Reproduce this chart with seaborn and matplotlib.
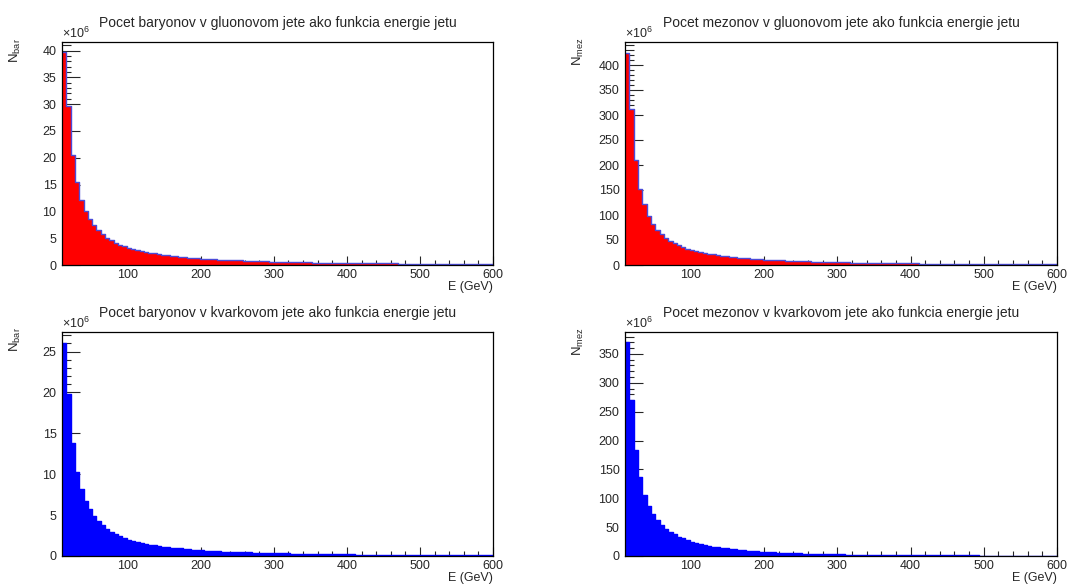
import numpy as np
import pandas as pd
import matplotlib
matplotlib.use("Agg")
import matplotlib.pyplot as plt
from matplotlib.ticker import MultipleLocator
import seaborn as sns

sns.set_style("ticks")
plt.rcParams["font.family"] = ["Liberation Sans", "DejaVu Sans"]
plt.rcParams["mathtext.default"] = "regular"

# binning: 100 bins from 10 to 600 GeV
n_bins = 100
e_min, e_max = 10, 600
edges = np.linspace(e_min, e_max, n_bins + 1)
centers = 0.5 * (edges[:-1] + edges[1:])

# values in units of 1e6
gluon_bar = [
    39.7, 29.6, 20.5, 15.4, 12.2, 10.0, 8.5, 7.4, 6.5, 5.7,
    5.1, 4.6, 4.15, 3.8, 3.5, 3.25, 3.0, 2.8, 2.6, 2.45,
    2.3, 2.17, 2.05, 1.95, 1.83, 1.73, 1.63, 1.55, 1.47, 1.39,
    1.32, 1.25, 1.19, 1.14, 1.09, 1.04, 1.0, 0.96, 0.93, 0.9,
    0.87, 0.84, 0.81, 0.78, 0.75, 0.72, 0.69, 0.66, 0.63, 0.61,
    0.59, 0.57, 0.55, 0.53, 0.51, 0.50, 0.48, 0.47, 0.46, 0.45,
    0.43, 0.42, 0.41, 0.40, 0.39, 0.38, 0.37, 0.36, 0.35, 0.34,
    0.33, 0.32, 0.31, 0.31, 0.30, 0.29, 0.28, 0.28, 0.27, 0.26,
    0.26, 0.25, 0.24, 0.24, 0.23, 0.23, 0.22, 0.22, 0.21, 0.21,
    0.20, 0.20, 0.19, 0.19, 0.18, 0.18, 0.18, 0.17, 0.17, 0.16,
]
gluon_mez = [
    425, 312, 210, 153, 122, 99, 83, 71, 62, 55,
    49, 44, 39.5, 36, 33, 30.5, 28, 26, 24.2, 22.6,
    21.2, 20.0, 18.8, 17.8, 16.8, 15.9, 15.0, 14.2, 13.5, 12.8,
    12.2, 11.6, 11.0, 10.5, 10.0, 9.6, 9.2, 8.8, 8.4, 8.1,
    7.8, 7.5, 7.2, 6.9, 6.6, 6.4, 6.1, 5.9, 5.7, 5.5,
    5.3, 5.1, 4.9, 4.8, 4.6, 4.5, 4.3, 4.2, 4.1, 3.9,
    3.8, 3.7, 3.6, 3.5, 3.4, 3.3, 3.2, 3.1, 3.0, 2.9,
    2.85, 2.8, 2.7, 2.65, 2.6, 2.5, 2.45, 2.4, 2.35, 2.3,
    2.2, 2.15, 2.1, 2.05, 2.0, 1.95, 1.9, 1.85, 1.8, 1.75,
    1.7, 1.68, 1.65, 1.6, 1.57, 1.54, 1.5, 1.47, 1.44, 1.4,
]
quark_bar = [
    26.0, 19.8, 13.8, 10.3, 8.2, 6.75, 5.75, 4.95, 4.3, 3.75,
    3.3, 2.95, 2.65, 2.4, 2.2, 2.0, 1.85, 1.72, 1.6, 1.5,
    1.4, 1.31, 1.23, 1.16, 1.09, 1.03, 0.97, 0.92, 0.87, 0.82,
    0.78, 0.74, 0.70, 0.67, 0.64, 0.61, 0.58, 0.55, 0.53, 0.51,
    0.49, 0.47, 0.45, 0.43, 0.41, 0.40, 0.38, 0.37, 0.36, 0.34,
    0.33, 0.32, 0.31, 0.30, 0.29, 0.28, 0.27, 0.26, 0.25, 0.24,
    0.235, 0.23, 0.22, 0.21, 0.205, 0.2, 0.19, 0.185, 0.18, 0.175,
    0.17, 0.165, 0.16, 0.155, 0.15, 0.145, 0.14, 0.135, 0.13, 0.125,
    0.12, 0.118, 0.115, 0.11, 0.107, 0.104, 0.1, 0.097, 0.094, 0.09,
    0.088, 0.086, 0.084, 0.082, 0.08, 0.078, 0.076, 0.074, 0.072, 0.07,
]
quark_mez = [
    370, 271, 183, 136, 106, 87, 72.5, 61.5, 54, 47,
    41.5, 37.5, 33.5, 30.5, 27.5, 25, 23, 21, 19.3, 17.8,
    16.4, 15.2, 14.1, 13.1, 12.2, 11.3, 10.5, 9.8, 9.2, 8.6,
    8.0, 7.5, 7.0, 6.6, 6.2, 5.8, 5.5, 5.2, 4.9, 4.6,
    4.4, 4.15, 3.95, 3.75, 3.55, 3.4, 3.2, 3.05, 2.9, 2.8,
    2.65, 2.55, 2.45, 2.35, 2.25, 2.15, 2.05, 1.97, 1.9, 1.82,
    1.75, 1.68, 1.62, 1.56, 1.5, 1.45, 1.4, 1.35, 1.3, 1.26,
    1.22, 1.18, 1.14, 1.1, 1.07, 1.04, 1.0, 0.97, 0.94, 0.92,
    0.89, 0.87, 0.84, 0.82, 0.8, 0.78, 0.76, 0.74, 0.72, 0.7,
    0.68, 0.67, 0.65, 0.64, 0.62, 0.61, 0.6, 0.58, 0.57, 0.56,
]

titles = [
    "Pocet baryonov v gluonovom jete ako funkcia energie jetu",
    "Pocet mezonov v gluonovom jete ako funkcia energie jetu",
    "Pocet baryonov v kvarkovom jete ako funkcia energie jetu",
    "Pocet mezonov v kvarkovom jete ako funkcia energie jetu",
]
ylabels = ["N$_{bar}$", "N$_{mez}$", "N$_{bar}$", "N$_{mez}$"]
series = [gluon_bar, gluon_mez, quark_bar, quark_mez]
fills = ["#ff0000", "#ff0000", "#0000ff", "#0000ff"]
lines = ["#4b4bd8", "#4b4bd8", "#0000ff", "#0000ff"]
ymax = [41.6, 446, 27.4, 388]
ymajor = [5, 50, 5, 50]
yminor = [1, 10, 1, 10]

fig = plt.figure(figsize=(10.69, 5.84), dpi=100)
W, H = 1069, 584
boxes = [(62, 42, 493, 265), (625, 42, 1057, 265),
         (62, 332, 493, 556), (625, 332, 1057, 556)]

for i in range(4):
    x0, y0, x1, y1 = boxes[i]
    ax = fig.add_axes([x0 / W, 1 - y1 / H, (x1 - x0) / W, (y1 - y0) / H])
    df = pd.DataFrame({"E": centers, "N": np.array(series[i], dtype=float)})
    sns.histplot(data=df, x="E", weights="N", bins=n_bins, binrange=(e_min, e_max),
                 element="step", fill=True, color=fills[i], alpha=1,
                 linewidth=0, ax=ax)
    sns.histplot(data=df, x="E", weights="N", bins=n_bins, binrange=(e_min, e_max),
                 element="step", fill=False, color=lines[i], linewidth=1.0, ax=ax)
    ax.set_xlim(e_min, e_max)
    ax.set_ylim(0, ymax[i])
    ax.xaxis.set_major_locator(MultipleLocator(100))
    ax.xaxis.set_minor_locator(MultipleLocator(20))
    ax.yaxis.set_major_locator(MultipleLocator(ymajor[i]))
    ax.yaxis.set_minor_locator(MultipleLocator(yminor[i]))
    ax.tick_params(axis="y", which="major", direction="in", length=13, width=0.8,
                   labelsize=9, pad=4, left=True, right=False)
    ax.tick_params(axis="y", which="minor", direction="in", length=6.5, width=0.8,
                   left=True, right=False)
    ax.tick_params(axis="x", which="major", direction="in", length=6.5, width=0.8,
                   labelsize=9, pad=3, bottom=True, top=False)
    ax.tick_params(axis="x", which="minor", direction="in", length=3.3, width=0.8,
                   bottom=True, top=False)
    for sp in ax.spines.values():
        sp.set_visible(True)
        sp.set_linewidth(0.9)
        sp.set_color("black")
    ax.set_title(titles[i], fontsize=10, pad=11)
    ax.set_xlabel("E (GeV)", fontsize=9, loc="right")
    ax.xaxis.set_label_coords(1.0, -0.07)
    ax.set_ylabel(ylabels[i], fontsize=9.5, loc="top")
    ax.yaxis.set_label_coords(-0.09, 1.02)
    ax.text(0.0, 1.004, r"$\times$10$^{6}$", transform=ax.transAxes,
            fontsize=9, ha="left", va="bottom")

plt.savefig("out.png", dpi=100)
